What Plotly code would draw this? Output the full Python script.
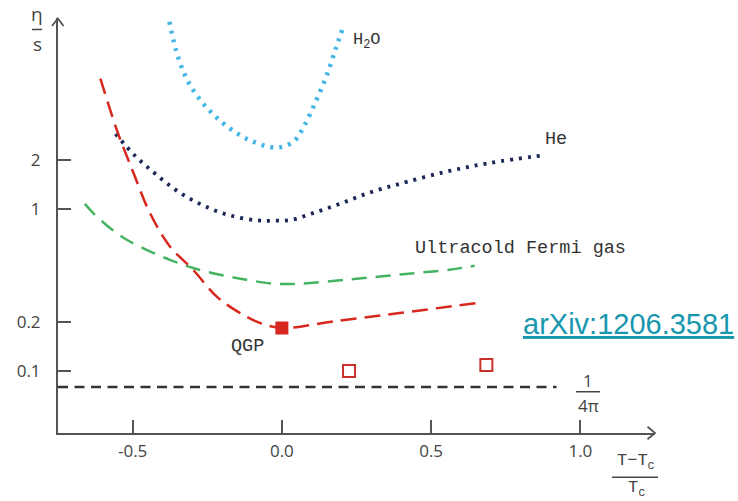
import numpy as np
import plotly.graph_objects as go

# ---------------- data ----------------
h2o_x = [-0.377, -0.347, -0.310, -0.253, -0.186, -0.107, -0.017, 0.040, 0.074, 0.115, 0.151, 0.181, 0.202]
h2o_y = [14.2, 8.5, 5.88, 4.22, 3.24, 2.64, 2.38, 2.60, 3.22, 4.64, 6.68, 9.76, 12.6]

he_x = [-0.557, -0.492, -0.423, -0.350, -0.271, -0.182, -0.090, -0.027, 0.035, 0.094, 0.154,
        0.213, 0.270, 0.328, 0.389, 0.541, 0.695, 0.883]
he_y = [2.89, 2.12, 1.635, 1.284, 1.063, 0.918, 0.850, 0.843, 0.855, 0.926, 1.009,
        1.104, 1.213, 1.315, 1.413, 1.675, 1.912, 2.14]

fermi_x = [-0.66, -0.632, -0.576, -0.520, -0.453, -0.375, -0.297, -0.208, -0.118, -0.029, 0.060,
           0.228, 0.395, 0.562, 0.646]
fermi_y = [1.07, 0.94, 0.76, 0.644, 0.558, 0.484, 0.431, 0.392, 0.365, 0.345, 0.345,
           0.367, 0.393, 0.421, 0.445]

qgp_x = [-0.608, -0.553, -0.497, -0.442, -0.375, -0.297, -0.219, -0.141, -0.074, 0.0,
         0.172, 0.395, 0.663]
qgp_y = [6.34, 3.06, 1.66, 0.94, 0.585, 0.42, 0.288, 0.228, 0.198, 0.184,
         0.202, 0.2275, 0.264]

qgp_point_x = [0.0]
qgp_point_y = [0.184]

open_sq_x = [0.225, 0.685]
open_sq_y = [0.100, 0.109]

kss_x = [-0.75, 0.92]
kss_y = [1 / (4 * np.pi)] * 2

x_ticks = [-0.5, 0.0, 0.5, 1.0]
x_ticktext = ["-0.5", "0.0", "0.5", "1.0"]
y_ticks = [0.1, 0.2, 1, 2]
y_ticktext = ["0.1", "0.2", "1", "2"]

# ---------------- figure ----------------
W, H = 738, 501
L, R, T, B = 58, 655, 18, 433.3

def pp(x, y):
    return (x - L) / (R - L), (B - y) / (B - T)

fig = go.Figure()

fig.add_trace(go.Scatter(x=h2o_x, y=h2o_y, mode="lines", line=dict(color="#45b5e6", width=4.5, dash="3px,6px", shape="spline")))
fig.add_trace(go.Scatter(x=he_x, y=he_y, mode="lines", line=dict(color="#1b2757", width=3.8, dash="3px,6px", shape="spline")))
fig.add_trace(go.Scatter(x=fermi_x, y=fermi_y, mode="lines", line=dict(color="#45b462", width=2.5, dash="15px,9px", shape="spline")))
fig.add_trace(go.Scatter(x=qgp_x, y=qgp_y, mode="lines", line=dict(color="#d7281f", width=2.5, dash="16px,8px", shape="spline")))
fig.add_trace(go.Scatter(x=kss_x, y=kss_y, mode="lines", line=dict(color="#333333", width=2.5, dash="10px,6.5px")))
fig.add_trace(go.Scatter(x=qgp_point_x, y=qgp_point_y, mode="markers",
                         marker=dict(symbol="square", size=13, color="#d7281f")))
fig.add_trace(go.Scatter(x=open_sq_x, y=open_sq_y, mode="markers",
                         marker=dict(symbol="square-open", size=12, color="#c9302c", line=dict(width=2))))

mono = "Liberation Mono, Courier New, monospace"
sans = "Open Sans, Liberation Sans, sans-serif"

def ann_data(text, x, y, size=18.5, font=mono, color="#333333", **kw):
    fig.add_annotation(text=text, x=x, y=np.log10(y), xref="x", yref="y", showarrow=False,
                       xanchor="center", yanchor="middle",
                       font=dict(family=font, size=size, color=color), **kw)

ann_data("H<sub>2</sub>O", 0.285, 10.8, size=17)
ann_data("He", 0.917, 2.68)
ann_data("Ultracold Fermi gas", 0.80, 0.566)
ann_data("QGP", -0.115, 0.142)
ann_data('<span style="text-decoration:underline">arXiv:1206.3581</span>', 1.162, 10 ** -0.709,
         size=29, font="Liberation Sans, Arial, sans-serif", color="#1797ad")

def ann_px(text, x, y, size=17, font=sans, color="#444444"):
    px, py = pp(x, y)
    fig.add_annotation(text=text, x=px, y=py, xref="paper", yref="paper", showarrow=False,
                       xanchor="center", yanchor="middle",
                       font=dict(family=font, size=size, color=color))

def line_px(x0, y0, x1, y1, color="#444444", width=1.5):
    a, b = pp(x0, y0)
    c, d = pp(x1, y1)
    fig.add_shape(type="line", x0=a, y0=b, x1=c, y1=d, xref="paper", yref="paper",
                  line=dict(color=color, width=width))

# y axis title eta / s
ann_px("η", 37, 14, size=19)
line_px(32, 29.5, 42, 29.5)
ann_px("s", 37, 44, size=19)

# 1/(4 pi)
ann_px("1", 588, 381, size=17)
line_px(576, 392, 600, 392)
ann_px("4π", 588, 406, size=17)

# x axis title
ann_px("T−T<sub>c</sub>", 636, 462, size=17, font=mono)
line_px(612, 477.5, 658, 477.5)
ann_px("T<sub>c</sub>", 636, 489, size=17, font=mono)

# axis arrows
def path_px(pts):
    s = ""
    for i, (x, y) in enumerate(pts):
        a, b = pp(x, y)
        s += ("M" if i == 0 else "L") + f"{a:.5f},{b:.5f} "
    return s

fig.add_shape(type="path", path=path_px([(52, 26), (57.8, 18.5), (63.6, 26)]), xref="paper", yref="paper",
              line=dict(color="#555555", width=1.8))
fig.add_shape(type="path", path=path_px([(647.5, 427), (655, 433.3), (647.5, 439.6)]), xref="paper", yref="paper",
              line=dict(color="#555555", width=1.8))

axis_common = dict(showgrid=False, zeroline=False, showline=True, linecolor="#555555", linewidth=2,
                   ticks="inside", ticklen=13, tickwidth=2, tickcolor="#555555",
                   tickfont=dict(family=sans, size=17, color="#444444"))

fig.update_xaxes(range=[-0.75, 1.25], tickvals=x_ticks, ticktext=x_ticktext, ticklabelstandoff=2, **axis_common)
fig.update_yaxes(type="log", range=[-1.382, 1.175], tickvals=y_ticks, ticktext=y_ticktext,
                 ticklabelstandoff=12, **axis_common)

fig.update_layout(width=W, height=H, margin=dict(l=L, r=W - R, t=T, b=H - B),
                  plot_bgcolor="white", paper_bgcolor="white", showlegend=False)

fig.write_html("out.html")
